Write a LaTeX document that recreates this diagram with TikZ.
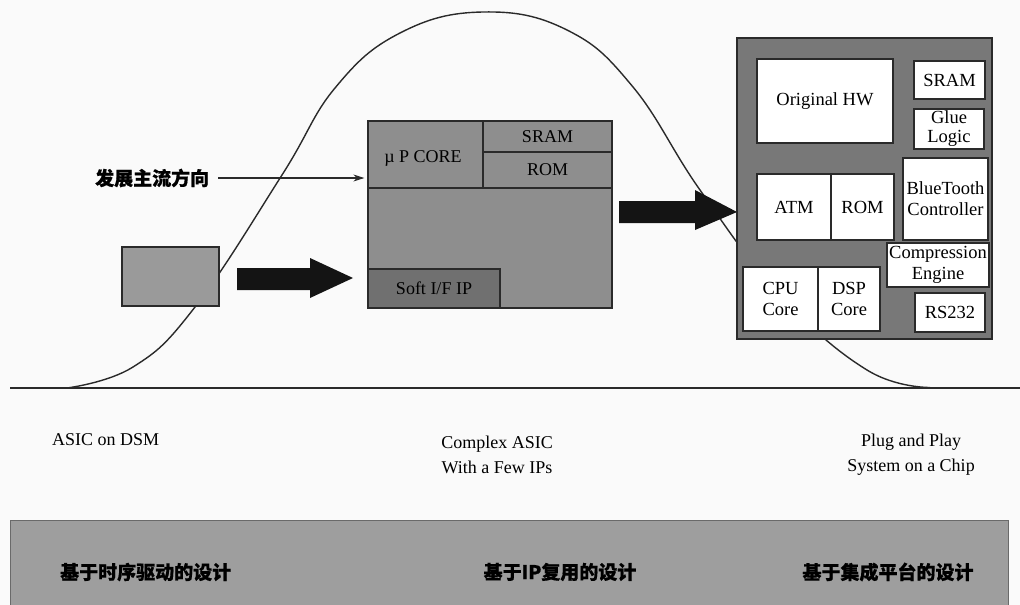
\documentclass[tikz,border=0pt]{standalone}
\usepackage{fontspec}
\setmainfont{Liberation Serif}
\newfontfamily\cjk{Noto Sans CJK SC}[FakeBold=0.6]
\usetikzlibrary{arrows.meta}
\definecolor{bgc}{HTML}{FAFAFA}
\definecolor{smallg}{HTML}{9A9A9A}
\definecolor{midg}{HTML}{8E8E8E}
\definecolor{softg}{HTML}{707070}
\definecolor{rightg}{HTML}{787878}
\definecolor{bandg}{HTML}{9E9E9E}
\definecolor{edge}{HTML}{2A2A2A}
\tikzset{
  x=1pt, y=-1pt,
  base/.style={draw=edge, line width=1.3pt, inner sep=0pt, align=center},
  wbox/.style={base, fill=white, font=\fontsize{18.5}{21}\selectfont},
  mbox/.style={base, fill=midg, font=\fontsize{18}{21}\selectfont},
  lbl/.style={font=\fontsize{18}{25}\selectfont, align=center, inner sep=0pt},
  cjklbl/.style={font=\cjk\bfseries\fontsize{19}{22}\selectfont, inner sep=0pt},
  blockarrow/.style={fill=black!92, draw=none},
}
\begin{document}
\begin{tikzpicture}
\useasboundingbox (0,0) rectangle (1020,605);
\fill[bgc] (0,0) rectangle (1020,605);
% baseline
\coordinate (bl) at (10,388);
\coordinate (br) at (1020,388);
\draw[line width=1.3pt, edge] (bl) -- (br);
% bell curve
\draw[line width=1.4pt, edge] plot[smooth, tension=0.7] coordinates {
 (67,388) (133,367) (195,307) (282,175) (335,88) (400,33) (483,12)
 (567,30) (633,87) (700,190) (780,295) (867,370) (930,387.5)};
% small box
\node[base, fill=smallg, minimum width=97pt, minimum height=59pt] (small) at (170.5,276.5) {};
% block arrow 1
\fill[blockarrow] (237,268) -- (310,268) -- (310,258) -- (353,278) -- (310,298) -- (310,290) -- (237,290) -- cycle;
% middle box
\node[mbox, minimum width=244pt, minimum height=187pt] (mid) at (490,214.5) {};
\node[mbox, minimum width=115pt, minimum height=67pt] (core) at (425.5,154.5) {};
\node[font=\fontsize{18}{21}\selectfont, inner sep=0pt] (coret) at (423,158) {µ P CORE};
\node[mbox, minimum width=129pt, minimum height=31pt] (sram) at (547.5,136.5) {SRAM};
\node[mbox, minimum width=129pt, minimum height=36pt] (rom) at (547.5,170) {ROM};
\node[mbox, fill=softg, minimum width=132pt, minimum height=39pt] (soft) at (434,288.5) {Soft I/F IP};
% label arrow
\node[cjklbl, anchor=west] (trend) at (95,178) {发展主流方向};
\draw[line width=1.1pt, edge, -{Stealth[length=11pt,width=7pt]}, shorten <=9pt, shorten >=3pt] (trend.east) -- (trend.east -| core.west);
% block arrow 2
\fill[blockarrow] (619,201) -- (695,201) -- (695,190) -- (737,212) -- (695,230) -- (695,223) -- (619,223) -- cycle;
% right box
\node[base, fill=rightg, minimum width=255pt, minimum height=301pt] (soc) at (864.5,188.5) {};
\node[wbox, minimum width=136pt, minimum height=84pt] (orig) at (825,101) {Original HW};
\node[wbox, minimum width=71pt, minimum height=38pt] (sram2) at (949.5,80) {SRAM};
\node[wbox, minimum width=70pt, minimum height=40pt, font=\fontsize{18.5}{19}\selectfont] (glue) at (949,129) {Glue\\Logic};
\node[wbox, minimum width=85pt, minimum height=82pt] (bt) at (945.5,199) {BlueTooth\\Controller};
\node[wbox, minimum width=74pt, minimum height=66pt] (atm) at (794,207) {ATM};
\node[wbox, minimum width=63pt, minimum height=66pt] (rom2) at (862.5,207) {ROM};
\node[wbox, minimum width=102pt, minimum height=44pt] (comp) at (938,265) {Compression\\Engine};
\node[wbox, minimum width=75pt, minimum height=64pt] (cpu) at (780.5,299) {CPU\\Core};
\node[wbox, minimum width=62pt, minimum height=64pt] (dsp) at (849,299) {DSP\\Core};
\node[wbox, minimum width=70pt, minimum height=39pt] (rs) at (950,312.5) {RS232};
% stage labels
\node[lbl, anchor=west] (s1) at (52,440) {ASIC on DSM};
\node[lbl] (s2) at (497,455) {Complex ASIC\\With a Few IPs};
\node[lbl] (s3) at (911,455) {Plug and Play\\System on a Chip};
% bottom band
\node[draw=edge!70, line width=1pt, fill=bandg, minimum width=998pt, minimum height=90pt, inner sep=0pt] (band) at (509,565) {};
\node[cjklbl, anchor=west] (m1) at (60,572) {基于时序驱动的设计};
\node[cjklbl] (m2) at (560,572) {基于IP复用的设计};
\node[cjklbl] (m3) at (888,572) {基于集成平台的设计};
\end{tikzpicture}
\end{document}
